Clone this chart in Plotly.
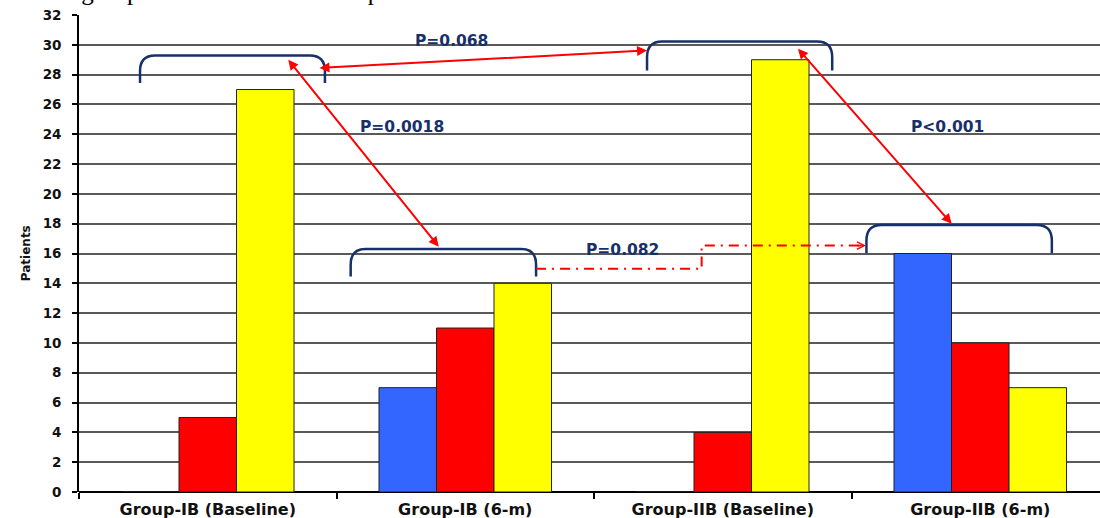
import plotly.graph_objects as go

# ---- data ---------------------------------------------------------------
categories = ["Group-IB (Baseline)", "Group-IB (6-m)", "Group-IIB (Baseline)", "Group-IIB (6-m)"]
blue_values = [0, 7, 0, 16]
red_values = [5, 11, 4, 10]
yellow_values = [27, 14, 29, 7]
y_ticks = list(range(0, 33, 2))

p_labels = ["P=0.068", "P=0.0018", "P<0.001", "P=0.082"]

# ---- styling --------------------------------------------------------------
FONT = "DejaVu Sans"
NAVY = "#17306a"
ARROW = "#ff0000"
OUTLINE = "#222222"

x_pos = list(range(len(categories)))

fig = go.Figure()
for name, vals, col in [("Series 1", blue_values, "#3366ff"),
                        ("Series 2", red_values, "#ff0000"),
                        ("Series 3", yellow_values, "#ffff00")]:
    fig.add_trace(go.Bar(
        x=x_pos, y=vals, name=name,
        marker=dict(color=col, line=dict(color=OUTLINE, width=1)),
        hoverinfo="skip",
    ))

# ---- comparison brackets (left, right, top, bottom) in axis units ----------
brackets = [
    (-0.263, 0.455, 29.28, 27.43),
    (0.555, 1.275, 16.31, 14.45),
    (1.706, 2.425, 30.22, 28.28),
    (2.558, 3.278, 17.92, 16.02),
]
RX, RY = 0.058, 1.05


def bracket_path(l, r, t, b):
    return (f"M {l},{b} L {l},{t - RY} Q {l},{t} {l + RX},{t} "
            f"L {r - RX},{t} Q {r},{t} {r},{t - RY} L {r},{b}")


shapes = [dict(type="path", xref="x", yref="y", path=bracket_path(*br),
               line=dict(color=NAVY, width=2.5)) for br in brackets]

# dash-dot connector between the two 6-month brackets
shapes.append(dict(
    type="path", xref="x", yref="y",
    path="M 1.275,14.97 L 1.918,14.97 L 1.918,16.53 L 2.545,16.53",
    line=dict(color=ARROW, width=2, dash="10px,6px,2px,6px"),
))

annotations = []
# double-headed comparison arrows: (tail x, tail y, tip x, tip y)
for x0, y0, x1, y1 in [(0.428, 28.44, 1.706, 29.62),
                       (0.308, 29.10, 0.897, 16.46),
                       (2.287, 29.84, 2.889, 17.99)]:
    annotations.append(dict(
        x=x1, y=y1, ax=x0, ay=y0, xref="x", yref="y", axref="x", ayref="y",
        text="", showarrow=True, arrowside="end+start",
        arrowhead=2, startarrowhead=2, arrowsize=1, startarrowsize=1,
        arrowwidth=2, arrowcolor=ARROW, standoff=0, startstandoff=0,
    ))

# open chevron at the end of the dash-dot connector
annotations.append(dict(
    x=2.556, y=16.53, ax=-10, ay=0, xref="x", yref="y",
    text="", showarrow=True, arrowhead=5, arrowsize=0.8, arrowwidth=1.8,
    arrowcolor=ARROW, standoff=0,
))

# p-value labels
for txt, (px, py) in zip(p_labels, [(0.947, 30.27), (0.754, 24.5), (2.873, 24.52), (1.609, 16.24)]):
    annotations.append(dict(
        x=px, y=py, xref="x", yref="y", text=f"<b>{txt}</b>", showarrow=False,
        font=dict(family=FONT, size=15.5, color=NAVY),
    ))

# caption line running above the chart (only its lower edge falls on the page)
annotations.append(dict(
    x=0.0, y=1.016, xref="paper", yref="paper", xanchor="left", yanchor="bottom",
    xshift=-79, text="have in group IIB even when in comparison to",
    showarrow=False, font=dict(family="Liberation Serif", size=25, color="#000000"),
))

# y-axis title
annotations.append(dict(
    x=-0.061, y=0.5, xref="paper", yref="paper", text="<b>Patients</b>",
    textangle=-90, showarrow=False,
    font=dict(family=FONT, size=12, color="#111111"),
))

fig.update_layout(
    width=1100, height=518,
    margin=dict(l=79, r=0, t=15, b=26),
    paper_bgcolor="white", plot_bgcolor="white",
    barmode="group", bargap=0.33, bargroupgap=0,
    showlegend=False,
    shapes=shapes, annotations=annotations,
    xaxis=dict(
        range=[-0.5, 3.465],
        tickmode="array", tickvals=x_pos, ticktext=[f"<b>{c}</b>" for c in categories],
        ticks="", ticklen=0, ticklabelstandoff=6,
        tickfont=dict(family=FONT, size=16, color="#111111"),
        showgrid=False, zeroline=False, showline=False,
        minor=dict(tickmode="array", tickvals=[-0.5, 0.5, 1.5, 2.5],
                   ticks="outside", ticklen=6, tickwidth=1.5, tickcolor="#000000"),
    ),
    yaxis=dict(
        range=[0, 32], tickmode="array", tickvals=y_ticks,
        ticktext=[f"<b>{v}</b>" for v in y_ticks],
        ticks="outside", ticklen=5, tickwidth=1.5, tickcolor="#000000",
        ticklabelstandoff=8,
        tickfont=dict(family=FONT, size=13.5, color="#111111"),
        showgrid=True, gridcolor="#5a5a5a", gridwidth=1.6,
        zeroline=True, zerolinecolor="#000000", zerolinewidth=1.6,
        showline=True, linecolor="#000000", linewidth=1.6,
    ),
)

fig.write_html("out.html")
